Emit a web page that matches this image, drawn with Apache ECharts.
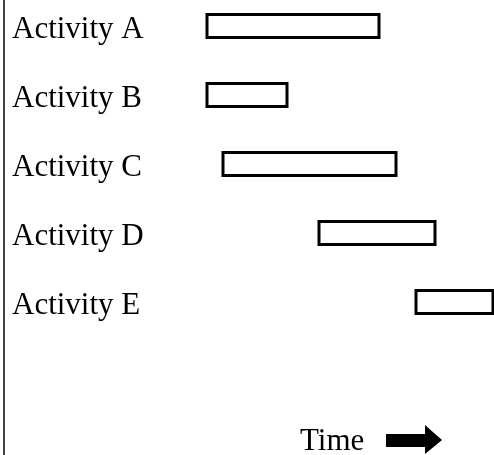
<!DOCTYPE html>
<html>
<head>
<meta charset="utf-8">
<script src="https://cdn.jsdelivr.net/npm/echarts@6/dist/echarts.min.js"></script>
<style>
  html, body { margin: 0; padding: 0; background: #fff; }
  #chart { width: 494px; height: 455px; }
</style>
</head>
<body>
<div id="chart"></div>
<script>
// activities and start / end times (arbitrary time units)
const activities = ['Activity A', 'Activity B', 'Activity C', 'Activity D', 'Activity E'];
const startTimes = [20.3, 20.3, 21.9, 31.5, 41.2];
const endTimes = [37.5, 28.3, 39.2, 43.1, 48.9];
const timeLabel = 'Time';

const FONT = '"Liberation Serif", "Times New Roman", serif';

const chartDom = document.getElementById('chart');
const myChart = echarts.init(chartDom);

const option = {
    animation: false,
    grid: {
        left: 4,
        right: 0,
        top: -8.5,
        height: 345,
        outerBoundsMode: 'none'
    },
    xAxis: {
        type: 'value',
        min: 0,
        max: 49,
        show: false
    },
    yAxis: {
        type: 'category',
        data: activities,
        inverse: true,
        axisLine: { show: false },
        axisTick: { show: false },
        splitLine: { show: false },
        axisLabel: {
            align: 'left',
            verticalAlign: 'top',
            lineHeight: 8,
            margin: -8,
            color: '#000',
            fontFamily: FONT,
            fontSize: 31
        }
    },
    series: [{
        type: 'custom',
        encode: { x: [1, 2], y: 0 },
        data: activities.map((a, i) => [i, startTimes[i], endTimes[i]]),
        renderItem(params, api) {
            const y = api.value(0);
            const p0 = api.coord([api.value(1), y]);
            const p1 = api.coord([api.value(2), y]);
            const h = 23;
            return {
                type: 'rect',
                shape: { x: p0[0], y: p0[1] - h / 2, width: p1[0] - p0[0], height: h },
                style: { fill: '#fff', stroke: '#000', lineWidth: 3 }
            };
        }
    }],
    graphic: [
        // left frame line
        {
            type: 'line',
            shape: { x1: 4, y1: 0, x2: 4, y2: 455 },
            style: { stroke: '#444', lineWidth: 2 }
        },
        {
            type: 'text',
            left: 300,
            top: 426,
            style: {
                text: timeLabel,
                fill: '#000',
                font: '31px ' + FONT
            }
        },
        // arrow
        {
            type: 'polygon',
            shape: {
                points: [[386, 434], [425, 434], [425, 425], [442, 440], [425, 454], [425, 447], [386, 447]]
            },
            style: { fill: '#000' }
        }
    ]
};

option && myChart.setOption(option);
window.addEventListener('resize', () => {
    myChart.resize();
});
</script>
</body>
</html>
